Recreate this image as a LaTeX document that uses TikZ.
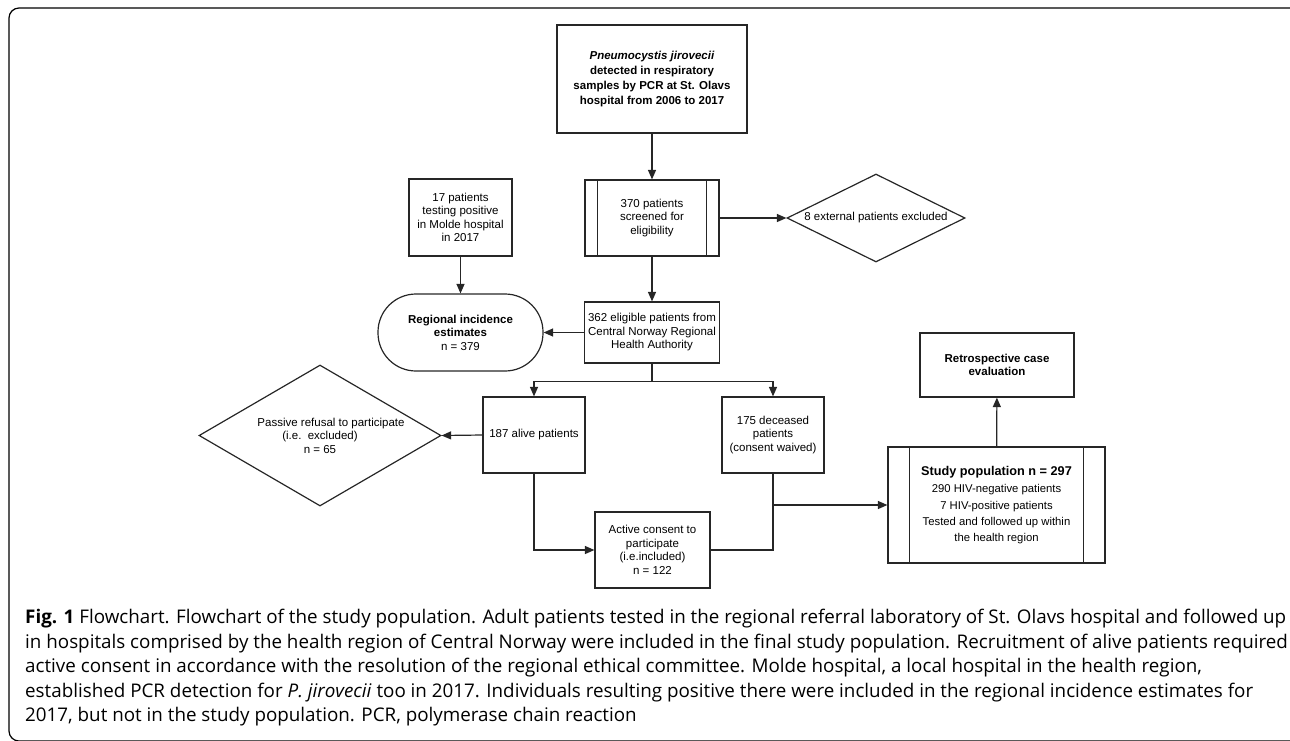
\documentclass[tikz,border=0pt]{standalone}
\usepackage{fontspec}
\setmainfont{Open Sans}
\newfontfamily\chartfont{Liberation Sans}
\usetikzlibrary{arrows.meta,shapes.geometric}

\begin{document}
\begin{tikzpicture}[x=1pt,y=-1pt,
  chart/.style={draw=black!85,line width=1.2pt,align=center,inner sep=0pt,
    font=\chartfont\fontsize{11.5}{13.5}\selectfont},
  chartbold/.style={chart,font=\chartfont\bfseries\fontsize{11.5}{13.5}\selectfont},
  link/.style={draw=black!85,line width=1.2pt},
  arr/.style={link,-{Triangle[length=9.5pt,width=8pt]}}]
\useasboundingbox (0,0) rectangle (1290,740);
\draw[line width=1.2pt,rounded corners=10pt] (9,8) rectangle (1320,741);

% main column
\node[chartbold,minimum width=190pt,minimum height=108pt,
      font=\chartfont\bfseries\fontsize{11.5}{15}\selectfont] (pcr) at (652,79)
  {\textit{Pneumocystis jirovecii}\\detected in respiratory\\samples by PCR at St. Olavs\\hospital from 2006 to 2017};
\node[chart,minimum width=134pt,minimum height=76pt] (screen) at (652,218)
  {370 patients\\screened for\\eligibility};
\draw[link] ([xshift=13pt]screen.north west) -- ([xshift=13pt]screen.south west)
            ([xshift=-13pt]screen.north east) -- ([xshift=-13pt]screen.south east);
\node[chart,shape=diamond,aspect=2,minimum width=178pt,minimum height=88pt] (extern) at (876,218)
  {8 external patients excluded};
\node[chart,minimum width=135pt,minimum height=61pt] (eligible) at (652,332.5)
  {362 eligible patients from\\Central Norway Regional\\Health Authority};

% Molde and regional estimates
\node[chart,minimum width=103pt,minimum height=77pt] (molde) at (460.5,217.5)
  {17 patients\\testing positive\\in Molde hospital\\in 2017};
\node[chart,rounded corners=38pt,minimum width=165pt,minimum height=77pt] (region) at (460.5,332.5)
  {\textbf{Regional incidence}\\\textbf{estimates}\\n = 379};

% alive and deceased
\node[chart,minimum width=102pt,minimum height=76pt] (alive) at (534,435) {187 alive patients};
\node[chart,minimum width=102pt,minimum height=76pt] (deceased) at (773,435)
  {175 deceased\\patients\\(consent waived)};
\node[chart,shape=diamond,aspect=1.72,minimum width=242pt,minimum height=141pt] (refusal) at (320,435.5)
  {\hspace*{22pt}Passive refusal to participate\\(i.e.\ \ excluded)\\n = 65};
\node[chart,minimum width=115pt,minimum height=76pt] (consent) at (652.5,550)
  {Active consent to\\participate\\(i.e.included)\\n = 122};

% study population
\node[chart,minimum width=217pt,minimum height=116pt,
      font=\chartfont\fontsize{11.3}{16.3}\selectfont] (study) at (996.5,505)
  {{\bfseries\fontsize{12.7}{16.3}\selectfont Study population n = 297}\\[1.5pt]
   290 HIV-negative patients\\7 HIV-positive patients\\Tested and followed up within\\the health region};
\draw[link] ([xshift=22pt]study.north west) -- ([xshift=22pt]study.south west)
            ([xshift=-22pt]study.north east) -- ([xshift=-22pt]study.south east);
\node[chartbold,minimum width=154pt,minimum height=64pt] (retro) at (997,365)
  {Retrospective case\\evaluation};

% connectors
\draw[arr] (pcr) -- (screen);
\draw[arr] (screen) -- (extern);
\draw[arr] (screen) -- (eligible);
\draw[arr] (molde) -- (region);
\draw[arr] (eligible) -- (region);
\draw[link] (eligible.south) -- ++(0,17.5) coordinate (fork);
\draw[arr] (fork) -| (alive);
\draw[arr] (fork) -| (deceased);
\draw[arr] (alive.west) -- (refusal.east);
\draw[arr] (alive) |- (consent);
\draw[link] (deceased) |- (consent);
\coordinate (join) at (deceased.south |- study.west);
\draw[arr] (join) -- (study);
\draw[arr] (study) -- (retro);

% caption
\node[anchor=north west,align=left,inner sep=0pt,font=\fontsize{18.8}{24.5}\selectfont] (caption) at (25,609)
  {\textbf{Fig. 1} Flowchart. Flowchart of the study population. Adult patients tested in the regional referral laboratory of St. Olavs hospital and followed up\\
   in hospitals comprised by the health region of Central Norway were included in the final study population. Recruitment of alive patients required\\
   active consent in accordance with the resolution of the regional ethical committee. Molde hospital, a local hospital in the health region,\\
   established PCR detection for \textit{P. jirovecii} too in 2017. Individuals resulting positive there were included in the regional incidence estimates for\\
   2017, but not in the study population. PCR, polymerase chain reaction};
\end{tikzpicture}
\end{document}
